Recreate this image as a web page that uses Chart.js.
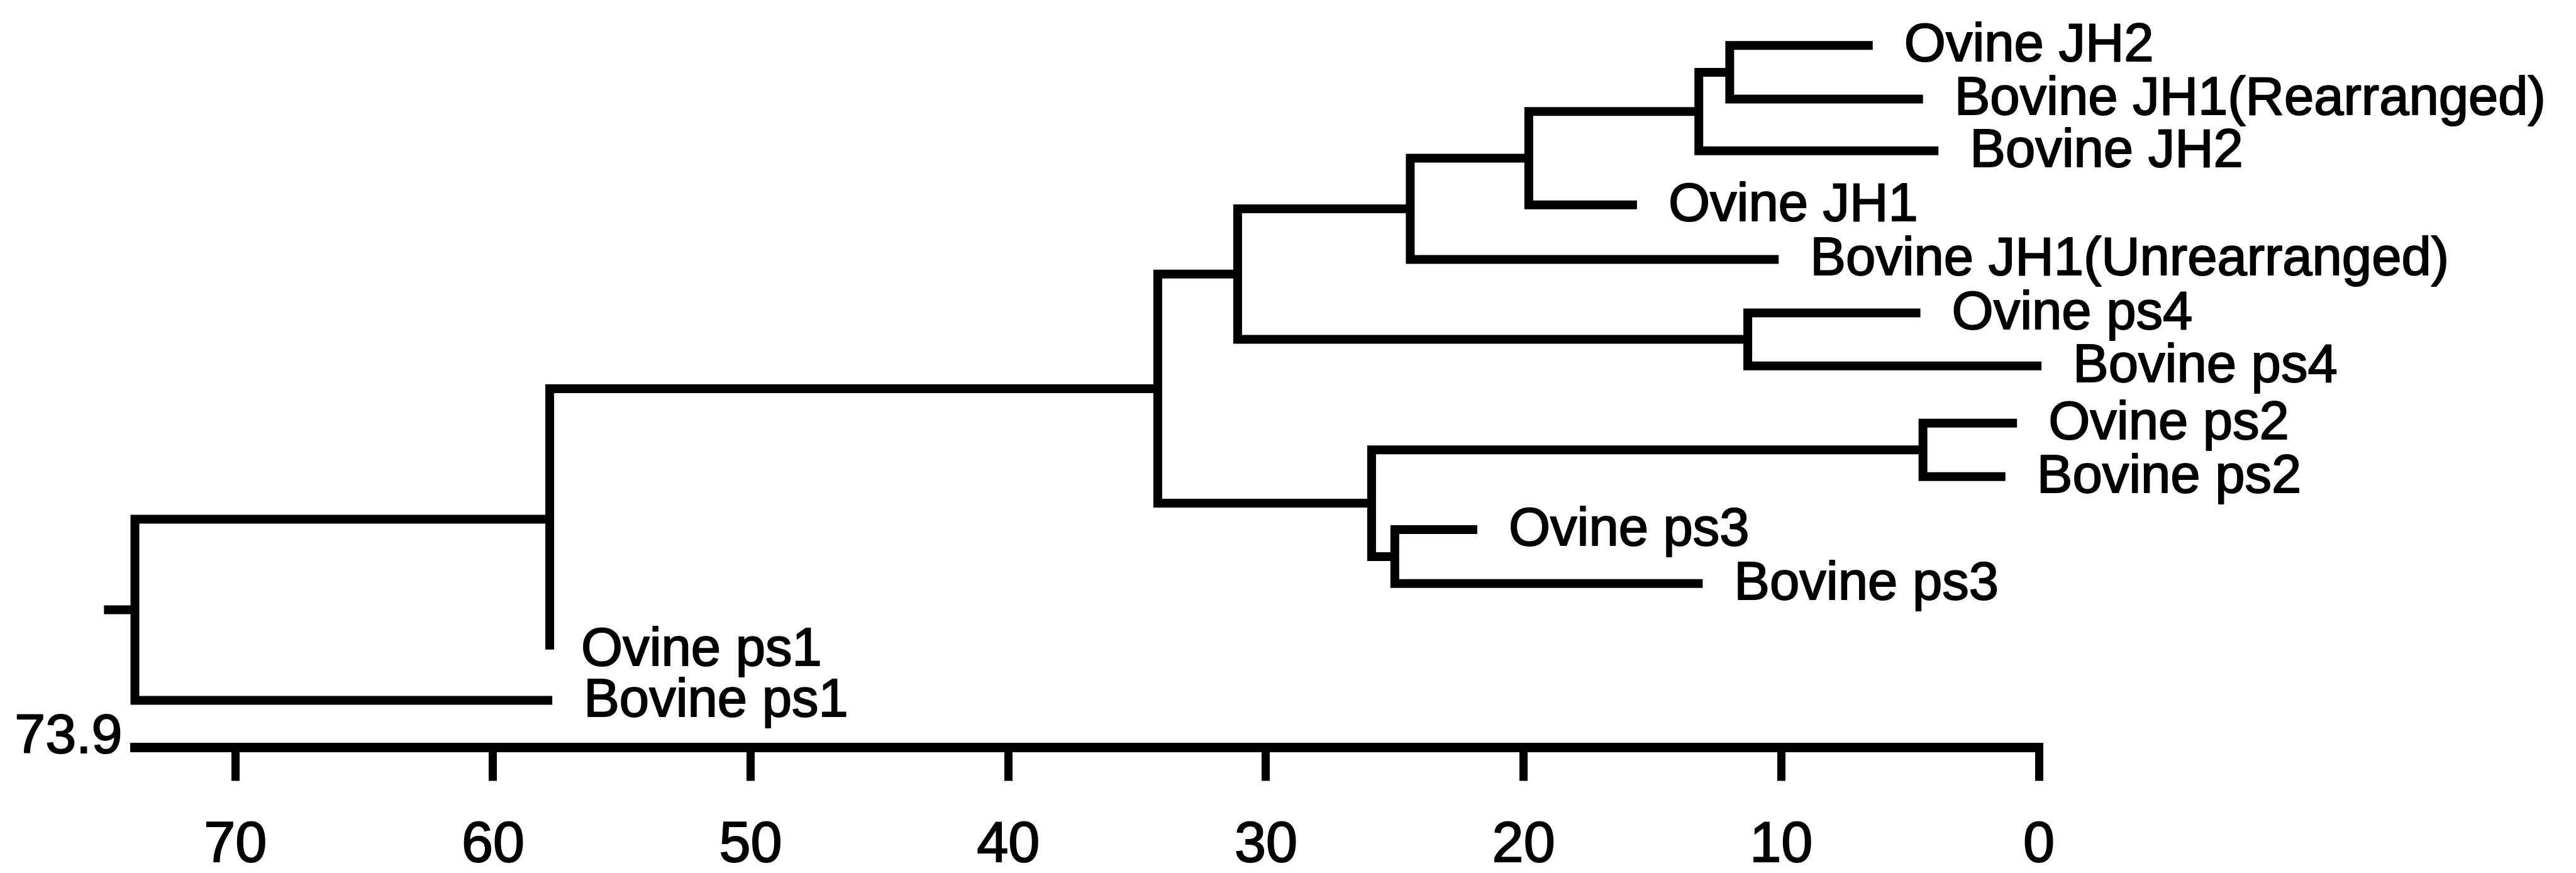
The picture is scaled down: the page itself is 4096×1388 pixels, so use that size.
<!DOCTYPE html>
<html><head><meta charset="utf-8">
<script src="https://cdn.jsdelivr.net/npm/chart.js@4"></script>
<style>html,body{margin:0;padding:0;background:#fff;} canvas{display:block}</style>
</head><body>
<canvas id="c" width="4096" height="1388"></canvas>
<script>
// ---- Data ----
const leafNames = ['Ovine JH2','Bovine JH1(Rearranged)','Bovine JH2','Ovine JH1','Bovine JH1(Unrearranged)','Ovine ps4','Bovine ps4','Ovine ps2','Bovine ps2','Ovine ps3','Bovine ps3','Ovine ps1','Bovine ps1'];
const leafRows = [0, 0.98, 1.93, 2.92, 3.92, 4.9, 5.87, 6.92, 7.9, 8.87, 9.86, 11.07, 12.0];
const leafTips = [6.45, 4.5, 3.9, 15.6, 10.1, 4.6, -0.1, 0.85, 1.3, 21.8, 13.05, 57.8, 57.7];

const nodeIds     = ['A','B','C','D','E','F','G','H','I','J','K','R'];
const nodeHeights = [12.0, 13.2, 19.8, 24.4, 11.3, 31.1, 4.5, 25.0, 25.9, 34.2, 57.8, 73.9];
const nodeUpper   = ['Ovine JH2','A','B','C','Ovine ps4','D','Ovine ps2','Ovine ps3','G','F','J','K'];
const nodeLower   = ['Bovine JH1(Rearranged)','Bovine JH2','Ovine JH1','Bovine JH1(Unrearranged)','Bovine ps4','E','Bovine ps2','Bovine ps3','H','I','Ovine ps1','Bovine ps1'];
const rootStubTo = 75.1;

const tickValues = [70, 60, 50, 40, 30, 20, 10, 0];
const axisMax = 73.9;

// ---- Tree layout ----
function pos(id) {
  const li = leafNames.indexOf(id);
  if (li >= 0) return { x: leafTips[li], y: leafRows[li] };
  const ni = nodeIds.indexOf(id);
  const u = pos(nodeUpper[ni]), l = pos(nodeLower[ni]);
  return { x: nodeHeights[ni], y: (u.y + l.y) / 2 };
}

const lineStyle = {
  showLine: true, borderColor: '#000', borderWidth: 14, pointRadius: 0,
  pointHoverRadius: 0, clip: false, tension: 0,
  borderJoinStyle: 'miter', borderCapStyle: 'butt', fill: false
};

const datasets = nodeIds.map((id, i) => {
  const u = pos(nodeUpper[i]), l = pos(nodeLower[i]);
  const h = nodeHeights[i];
  return Object.assign({
    label: id,
    data: [{x: u.x, y: u.y}, {x: h, y: u.y}, {x: h, y: l.y}, {x: l.x, y: l.y}]
  }, lineStyle);
});
const rootPos = pos('R');
datasets.push(Object.assign({
  label: 'root',
  data: [{x: rootStubTo, y: rootPos.y}, {x: axisMax, y: rootPos.y}]
}, lineStyle));

const W = 4096, H = 1388;
const axisY = 1188.5;
const FONT = '"Liberation Sans", Arial, sans-serif';

const treeLabels = {
  id: 'treeLabels',
  afterDraw(chart) {
    const { ctx, scales: { x, y } } = chart;
    ctx.save();
    ctx.fillStyle = '#000';
    ctx.strokeStyle = '#000';
    ctx.lineWidth = 2;
    ctx.lineJoin = 'round';
    ctx.font = '85px ' + FONT;
    ctx.textAlign = 'left';
    ctx.textBaseline = 'alphabetic';
    leafNames.forEach((n, i) => {
      const px = x.getPixelForValue(leafTips[i]) + 50;
      const py = y.getPixelForValue(leafRows[i]) + 25;
      ctx.fillText(n, px, py);
      ctx.strokeText(n, px, py);
    });
    ctx.font = '88px ' + FONT;
    ctx.textAlign = 'right';
    const ax = x.getPixelForValue(axisMax) - 20, ay = chart.chartArea.bottom + 8;
    ctx.fillText(String(axisMax), ax, ay);
    ctx.strokeText(String(axisMax), ax, ay);
    ctx.restore();
  }
};

new Chart(document.getElementById('c'), {
  type: 'scatter',
  data: { datasets },
  options: {
    responsive: false, animation: false, devicePixelRatio: 1,
    layout: { padding: { left: 214.5, right: W - 3242, top: 0, bottom: 0 } },
    plugins: { legend: { display: false }, tooltip: { enabled: false } },
    scales: {
      x: {
        type: 'linear', position: 'bottom', reverse: true, min: 0, max: axisMax,
        afterBuildTicks: s => { s.ticks = tickValues.map(v => ({ value: v })); },
        afterFit: s => { s.height = H - axisY; },
        grid: { display: true, drawOnChartArea: false, drawTicks: true, tickLength: 53, lineWidth: 13, color: '#000' },
        border: { display: true, width: 15, color: '#000' },
        ticks: { color: '#000', font: { family: FONT, size: 90 }, padding: 50,
                 textStrokeColor: '#000', textStrokeWidth: 2,
                 maxRotation: 0, autoSkip: false, callback: v => String(v) }
      },
      y: { type: 'linear', display: false, reverse: true, min: -0.834, max: 12.864 }
    }
  },
  plugins: [treeLabels]
});
</script>
</body></html>
